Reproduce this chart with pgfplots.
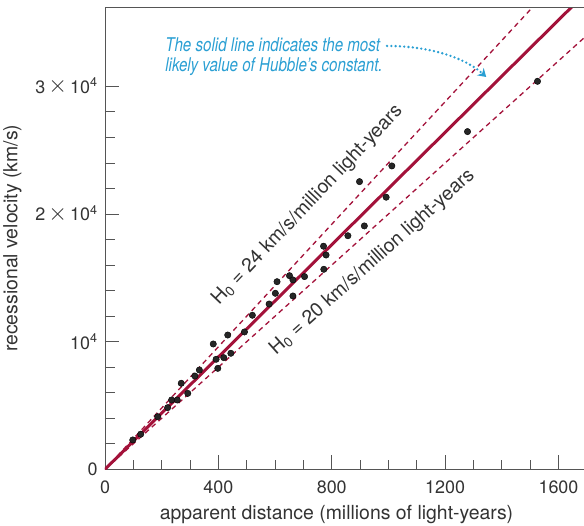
\documentclass[border=0pt]{standalone}
\usepackage{fontspec}
\setmainfont{TeX Gyre Heros}
\newfontfamily\notefont[FakeStretch=0.8]{TeX Gyre Heros}
\usepackage{pgfplots}
\pgfplotsset{compat=1.18}
\usetikzlibrary{arrows.meta}
\definecolor{hubred}{HTML}{A3123A}
\definecolor{notecyan}{HTML}{2A9FD3}
\definecolor{inkgray}{HTML}{333333}
\definecolor{axgray}{HTML}{555555}
\newcommand\tms{\,\raisebox{0.3bp}{\scalebox{1.4}{$\times$}}\,}

\begin{document}
\begin{tikzpicture}
\begin{axis}[
  scale only axis, width=479bp, height=462bp,
  xmin=0, xmax=1690, ymin=0, ymax=36200,
  axis lines=left, axis line style={-, axgray, line width=0.9bp},
  tick align=inside,
  xtick={0,400,...,1600}, minor x tick num=3,
  ytick={0,10000,20000,30000}, minor y tick num=4,
  yticklabels={0,10\textsuperscript{4},2\tms10\textsuperscript{4},3\tms10\textsuperscript{4}},
  scaled y ticks=false, scaled x ticks=false,
  /pgf/number format/1000 sep={}, /pgf/number format/assume math mode=true,
  major tick length=14bp, minor tick length=9.5bp,
  tick style={axgray, line width=0.9bp},
  tick label style={font=\fontsize{18}{20}\selectfont, text=inkgray},
  xticklabel style={yshift=-8bp},
  yticklabel style={xshift=-4bp},
  label style={font=\fontsize{19.5}{22}\selectfont, text=inkgray},
  xlabel style={xshift=-8bp, yshift=-5bp},
  ylabel style={yshift=7bp},
  xlabel={apparent distance (millions of light-years)},
  ylabel={recessional velocity (km/s)},
]
% H0 = 24 and H0 = 20 bounds, best fit 22
\addplot[hubred, line width=1.3bp, dash pattern=on 5bp off 4bp] coordinates {(0,0) (1690,40560)};
\addplot[hubred, line width=1.3bp, dash pattern=on 5bp off 4bp] coordinates {(0,0) (1690,33800)};
\addplot[hubred, line width=3bp] coordinates {(0,0) (1690,37180)};
\addplot[only marks, mark=*, mark size=3.2bp, mark options={fill=black!85, draw=none}] coordinates {
  (98,2300) (126,2750) (186,4120) (221,4830) (235,5430) (255,5430)
  (269,6740) (292,5950) (317,7310) (333,7780) (382,9820) (392,8620)
  (398,7910) (419,8750) (433,10520) (444,9090) (492,10760) (520,12070)
  (579,12950) (601,13790) (607,14700) (651,15170) (663,14840) (663,13580)
  (704,15100) (771,17480) (780,16790) (772,15670) (857,18300) (898,22540)
  (915,19070) (992,21320) (1012,23770) (1279,26460) (1526,30400)
};
\node[rotate=46.5, anchor=base, font=\fontsize{19.5}{22}\selectfont, text=inkgray]
  at (axis cs:727,20430) {H\textsubscript{0} = 24 km/s/million light-years};
\node[rotate=41.8, anchor=base, font=\fontsize{19.5}{22}\selectfont, text=inkgray]
  at (axis cs:955,15930) {H\textsubscript{0} = 20 km/s/million light-years};
\node[anchor=north west, align=left, inner sep=0pt, text=notecyan,
  font=\notefont\itshape\fontsize{19}{20}\selectfont]
  at (axis cs:212,33820) {The solid line indicates the most\\likely value of Hubble’s constant.};
\draw[notecyan, line width=2.6bp, dash pattern=on 0bp off 4.3bp, line cap=round,
  -{Stealth[length=8bp,width=10bp]}]
  (axis cs:995,33170) .. controls (axis cs:1147,33170) and (axis cs:1271,32230) .. (axis cs:1345,30740);
\coordinate (O) at (rel axis cs:0,0);
\coordinate (TL) at (rel axis cs:0,1);
\coordinate (TR) at (rel axis cs:1,1);
\end{axis}
\draw[axgray, line width=0.9bp] (TL) -- (TR);
\pgfresetboundingbox
\path[use as bounding box] ([shift={(-105bp,-56.7bp)}]O) rectangle ([shift={(479bp,469.3bp)}]O);
\end{tikzpicture}
\end{document}
